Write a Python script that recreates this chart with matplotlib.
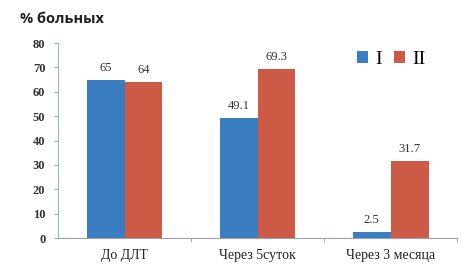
import numpy as np
import matplotlib
matplotlib.use('Agg')
from matplotlib import pyplot as plt

categories = ['До ДЛТ', 'Через 5суток', 'Через 3 месяца']
group_I = [65, 49.1, 2.5]
group_II = [64, 69.3, 31.7]
labels_I = ['65', '49.1', '2.5']
labels_II = ['64', '69.3', '31.7']
yticks = [0, 10, 20, 30, 40, 50, 60, 70, 80]

blue = '#3b7dc1'
red = '#cd5a45'
serif = 'Liberation Serif'

fig = plt.figure(figsize=(4.62, 2.70), dpi=100)
ax = fig.add_axes([0.1255, 0.1185, 0.864, 0.722])

x = np.arange(len(categories))
w = 0.285
b1 = ax.bar(x - w / 2, group_I, w, color=blue, label='I')
b2 = ax.bar(x + w / 2, group_II, w, color=red, label='II')

for rect, txt in zip(b1, labels_I):
    ax.text(rect.get_x() + rect.get_width() / 2, rect.get_height() + 2.5, txt,
            ha='center', va='bottom', fontsize=9, family=serif, color='#333333')
for rect, txt in zip(b2, labels_II):
    ax.text(rect.get_x() + rect.get_width() / 2, rect.get_height() + 2.5, txt,
            ha='center', va='bottom', fontsize=9, family=serif, color='#333333')

ax.set_xlim(-0.5, 2.5)
ax.set_ylim(0, 80)
ax.set_yticks(yticks)
ax.set_yticklabels([str(t) for t in yticks], family=serif, fontsize=9, fontweight='bold', color='#333333')
ax.set_xticks(x)
ax.set_xticklabels(categories, family=serif, fontsize=10, color='#222222')
ax.tick_params(axis='x', length=0, pad=8)
ax.set_xticks([0.5, 1.5, 2.5], minor=True)
ax.tick_params(axis='x', which='minor', length=3, color='#9aa0a8', direction='out')
ax.tick_params(axis='y', length=3, color='#8fb6d6', direction='out', pad=6)

for s in ['top', 'right']:
    ax.spines[s].set_visible(False)
ax.spines['left'].set_color('#8fb6d6')
ax.spines['bottom'].set_color('#9aa0a8')

leg = ax.legend(loc='upper right', bbox_to_anchor=(0.965, 1.05), ncol=2, frameon=False,
                prop={'family': serif, 'size': 14}, handlelength=0.55, handleheight=0.55,
                handletextpad=0.4, columnspacing=0.6)

fig.text(0.043, 0.93, '% больных', fontsize=10.5, fontweight='bold', family='Open Sans',
         color='#222222', va='center')

fig.savefig('out.png', dpi=100)
